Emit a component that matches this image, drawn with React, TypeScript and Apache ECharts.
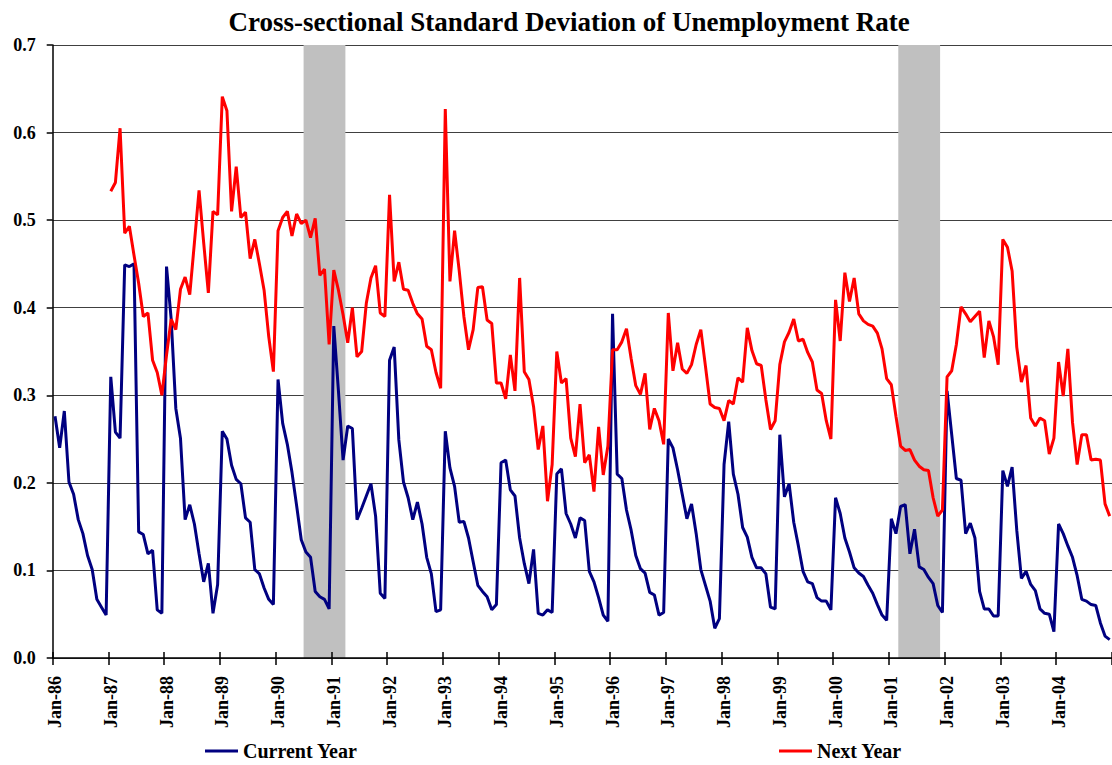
import React, { useEffect, useRef } from "react";
import * as echarts from "echarts";

const monthNames = ["Jan", "Feb", "Mar", "Apr", "May", "Jun", "Jul", "Aug", "Sep", "Oct", "Nov", "Dec"];
const yearLabels = ["86", "87", "88", "89", "90", "91", "92", "93", "94", "95", "96", "97", "98", "99", "00", "01", "02", "03", "04"];
const categories: string[] = [];
yearLabels.forEach((y) => monthNames.forEach((m) => categories.push(`${m}-${y}`)));

const currentYear = [
  0.276, 0.240, 0.282, 0.201, 0.187, 0.158, 0.142, 0.117, 0.101, 0.067, 0.058, 0.049,
  0.321, 0.258, 0.251, 0.449, 0.447, 0.450, 0.144, 0.141, 0.119, 0.123, 0.055, 0.051,
  0.447, 0.387, 0.285, 0.251, 0.158, 0.175, 0.153, 0.119, 0.087, 0.108, 0.051, 0.084,
  0.259, 0.250, 0.220, 0.204, 0.199, 0.160, 0.155, 0.101, 0.096, 0.080, 0.067, 0.061,
  0.318, 0.268, 0.244, 0.212, 0.174, 0.135, 0.121, 0.115, 0.076, 0.070, 0.067, 0.056,
  0.379, 0.305, 0.226, 0.265, 0.262, 0.158, 0.171, 0.185, 0.199, 0.162, 0.074, 0.068,
  0.340, 0.355, 0.249, 0.201, 0.183, 0.158, 0.178, 0.153, 0.115, 0.096, 0.053, 0.055,
  0.259, 0.217, 0.196, 0.155, 0.156, 0.137, 0.110, 0.083, 0.076, 0.070, 0.055, 0.061,
  0.223, 0.226, 0.192, 0.185, 0.137, 0.108, 0.085, 0.124, 0.051, 0.049, 0.055, 0.052,
  0.210, 0.216, 0.165, 0.153, 0.137, 0.160, 0.157, 0.099, 0.087, 0.069, 0.049, 0.042,
  0.393, 0.210, 0.205, 0.169, 0.146, 0.117, 0.102, 0.097, 0.075, 0.072, 0.049, 0.052,
  0.250, 0.240, 0.215, 0.187, 0.159, 0.176, 0.142, 0.101, 0.083, 0.065, 0.034, 0.045,
  0.221, 0.270, 0.210, 0.187, 0.149, 0.138, 0.115, 0.103, 0.103, 0.096, 0.058, 0.056,
  0.255, 0.184, 0.199, 0.155, 0.128, 0.099, 0.087, 0.085, 0.069, 0.065, 0.065, 0.055,
  0.183, 0.165, 0.137, 0.121, 0.103, 0.097, 0.093, 0.083, 0.074, 0.061, 0.049, 0.043,
  0.159, 0.142, 0.173, 0.175, 0.119, 0.147, 0.104, 0.101, 0.092, 0.085, 0.060, 0.052,
  0.305, 0.255, 0.205, 0.203, 0.142, 0.154, 0.137, 0.076, 0.056, 0.056, 0.048, 0.048,
  0.214, 0.196, 0.218, 0.146, 0.091, 0.099, 0.084, 0.077, 0.056, 0.051, 0.050, 0.030,
  0.153, 0.142, 0.128, 0.115, 0.094, 0.067, 0.065, 0.061, 0.060, 0.040, 0.025, 0.021,
];

const nextYear = [
  null, null, null, null, null, null, null, null, null, null, null, null,
  0.533, 0.543, 0.605, 0.485, 0.493, 0.460, 0.428, 0.390, 0.394, 0.340, 0.326, 0.300,
  0.346, 0.387, 0.375, 0.421, 0.435, 0.415, 0.474, 0.534, 0.474, 0.417, 0.510, 0.506,
  0.641, 0.625, 0.510, 0.561, 0.503, 0.509, 0.456, 0.478, 0.450, 0.420, 0.367, 0.327,
  0.488, 0.503, 0.510, 0.482, 0.507, 0.496, 0.500, 0.480, 0.502, 0.437, 0.444, 0.358,
  0.443, 0.420, 0.392, 0.360, 0.400, 0.344, 0.350, 0.405, 0.434, 0.448, 0.394, 0.390,
  0.529, 0.430, 0.452, 0.421, 0.420, 0.405, 0.393, 0.387, 0.356, 0.352, 0.326, 0.308,
  0.627, 0.430, 0.488, 0.442, 0.390, 0.352, 0.375, 0.423, 0.424, 0.386, 0.382, 0.314,
  0.314, 0.296, 0.346, 0.305, 0.434, 0.327, 0.318, 0.287, 0.238, 0.265, 0.179, 0.221,
  0.350, 0.314, 0.319, 0.251, 0.230, 0.290, 0.223, 0.232, 0.190, 0.264, 0.209, 0.242,
  0.352, 0.352, 0.361, 0.376, 0.342, 0.311, 0.301, 0.325, 0.261, 0.285, 0.271, 0.244,
  0.394, 0.328, 0.360, 0.330, 0.325, 0.335, 0.358, 0.375, 0.333, 0.290, 0.286, 0.285,
  0.271, 0.294, 0.290, 0.320, 0.315, 0.377, 0.351, 0.336, 0.334, 0.295, 0.261, 0.271,
  0.335, 0.361, 0.372, 0.387, 0.362, 0.364, 0.349, 0.338, 0.306, 0.302, 0.271, 0.250,
  0.409, 0.362, 0.440, 0.407, 0.434, 0.393, 0.385, 0.381, 0.379, 0.371, 0.353, 0.319,
  0.312, 0.276, 0.242, 0.237, 0.238, 0.226, 0.219, 0.215, 0.214, 0.183, 0.162, 0.169,
  0.321, 0.328, 0.358, 0.401, 0.393, 0.384, 0.390, 0.396, 0.343, 0.385, 0.367, 0.335,
  0.478, 0.469, 0.442, 0.355, 0.315, 0.334, 0.274, 0.265, 0.274, 0.271, 0.233, 0.251,
  0.338, 0.299, 0.353, 0.269, 0.221, 0.255, 0.255, 0.226, 0.227, 0.226, 0.176, 0.162,
];

// Recession periods (first and last month shaded)
const recessions: [string, string][] = [
  ["Jul-90", "Mar-91"],
  ["Mar-01", "Nov-01"],
];

const FONT = "'Liberation Serif', 'Times New Roman', serif";

export default function App() {
  const ref = useRef<HTMLDivElement>(null);
  useEffect(() => {
    if (!ref.current) return;
    const chart = echarts.init(ref.current, null, { renderer: "svg" });
    const n = categories.length;
    const option = {
      animation: false,
      backgroundColor: "#ffffff",
      title: {
        text: "Cross-sectional Standard Deviation of Unemployment Rate",
        left: 564,
        top: 3,
        textAlign: "center",
        textStyle: { fontFamily: FONT, fontWeight: "bold", fontSize: 27, color: "#000" },
      },
      legend: [
        {
          data: ["Current Year"],
          left: 200,
          top: 736,
          icon: "rect",
          itemWidth: 33,
          itemHeight: 3,
          textStyle: { fontFamily: FONT, fontWeight: "bold", fontSize: 20, color: "#000" },
        },
        {
          data: ["Next Year"],
          left: 774,
          top: 736,
          icon: "rect",
          itemWidth: 33,
          itemHeight: 3,
          textStyle: { fontFamily: FONT, fontWeight: "bold", fontSize: 20, color: "#000" },
        },
      ],
      grid: { left: 52.7, right: -3.6, top: 45, bottom: 107, containLabel: false },
      xAxis: [
        {
          type: "category",
          data: categories,
          boundaryGap: true,
          z: 5,
          axisLine: { show: true, lineStyle: { color: "#000", width: 1.5 } },
          axisTick: { show: true, interval: 11, length: 7, lineStyle: { color: "#000", width: 1.5 } },
          axisLabel: {
            interval: 11,
            rotate: 90,
            margin: 18,
            fontFamily: FONT,
            fontWeight: "bold",
            fontSize: 18,
            color: "#000",
          },
          splitLine: { show: false },
        },
        {
          type: "category",
          data: categories,
          boundaryGap: true,
          position: "bottom",
          z: 5,
          axisLine: { show: false },
          axisTick: { show: true, inside: true, interval: 11, length: 6, lineStyle: { color: "#000", width: 1.5 } },
          axisLabel: { show: false },
          splitLine: { show: false },
        },
        {
          type: "value",
          min: 0,
          max: n,
          show: false,
          position: "top",
        },
      ],
      yAxis: {
        type: "value",
        min: 0,
        max: 0.7,
        interval: 0.1,
        axisLine: { show: true, lineStyle: { color: "#000", width: 1.5 } },
        axisTick: { show: true, length: 6, lineStyle: { color: "#000", width: 1.5 } },
        axisLabel: {
          margin: 17,
          fontFamily: FONT,
          fontWeight: "bold",
          fontSize: 18,
          color: "#000",
          formatter: (v: number) => v.toFixed(1),
        },
        splitLine: { show: true, lineStyle: { color: "#404040", width: 1 } },
      },
      series: [
        {
          type: "line",
          xAxisIndex: 2,
          yAxisIndex: 0,
          data: [],
          silent: true,
          z: 1,
          markArea: {
            silent: true,
            itemStyle: { color: "#C0C0C0" },
            data: recessions.map(([s, e]) => [
              { xAxis: categories.indexOf(s) },
              { xAxis: categories.indexOf(e) + 1 },
            ]),
          },
        },
        {
          name: "Current Year",
          type: "line",
          data: currentYear,
          symbol: "none",
          showSymbol: false,
          z: 3,
          color: "#000080",
          lineStyle: { color: "#000080", width: 3 },
          itemStyle: { color: "#000080" },
        },
        {
          name: "Next Year",
          type: "line",
          data: nextYear,
          symbol: "none",
          showSymbol: false,
          connectNulls: false,
          z: 3,
          color: "#FF0000",
          lineStyle: { color: "#FF0000", width: 3 },
          itemStyle: { color: "#FF0000" },
        },
      ],
    };
    chart.setOption(option as any);
    return () => chart.dispose();
  }, []);
  return (
    <div
      ref={ref}
      style={{ position: "absolute", left: 0, top: 0, width: 1112, height: 765, background: "#fff" }}
    />
  );
}
